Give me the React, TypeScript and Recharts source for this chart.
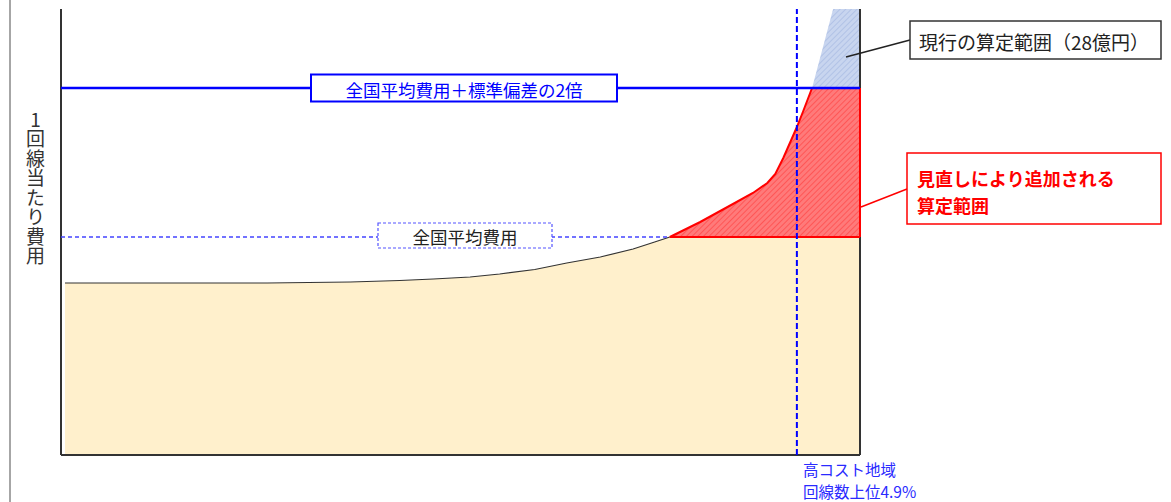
import React from 'react';
import { ComposedChart, Area, Line, XAxis, YAxis, ReferenceLine } from 'recharts';

// 収容局を1回線当たり費用の低い順に並べた位置（左端0〜右端100）
const POSITIONS = [
    0.5, 11.1, 25.8, 36.2, 42.4, 46.6, 51.2, 54.9, 59.3, 63.3, 67.5, 71.6, 74.3, 76.2,
    80.0, 84.1, 86.6, 88.4, 89.4, 90.4, 91.5, 92.1, 92.9, 94.0, 96.6, 100,
];
// 1回線当たり費用（相対値）
const COSTS = [
    172, 172, 172, 173, 174.5, 176, 178, 181, 185.5, 192, 198, 206, 213, 218,
    233, 251, 262, 272, 281, 297, 317, 328, 344, 367, 445, 545,
];

const AVERAGE = 218; // 全国平均費用
const AVERAGE_2SD = 367; // 全国平均費用＋標準偏差の2倍
const HIGH_COST_POS = 92.1; // 高コスト地域の境界
const Y_MAX = 446;

const FONT = '"Noto Sans CJK JP", "Noto Sans", sans-serif';

const rows = POSITIONS.map((x, i) => {
    const c = COSTS[i];
    return {
        x,
        base: Math.min(c, AVERAGE),
        added: Math.min(Math.max(c - AVERAGE, 0), AVERAGE_2SD - AVERAGE),
        current: Math.max(c - AVERAGE_2SD, 0),
        low: c <= AVERAGE ? c : null,
        high: c >= AVERAGE && c <= AVERAGE_2SD ? c : null,
    };
});

const crossAvg = POSITIONS[COSTS.indexOf(AVERAGE)];

const SdLabel = ({ viewBox }: any) => {
    const cx = viewBox.x + 403;
    const cy = viewBox.y;
    return (
        <g>
            <rect x={cx - 153} y={cy - 13.5} width={306} height={27} fill="#fff" stroke="#0000ff" strokeWidth={2} />
            <text x={cx} y={cy + 1} textAnchor="middle" dominantBaseline="central" fontSize={17.5} fill="#0000ff" fontFamily={FONT}>
                全国平均費用＋標準偏差の2倍
            </text>
        </g>
    );
};

const AvgLabel = ({ viewBox }: any) => {
    const cx = viewBox.x + 404;
    const cy = viewBox.y - 1.5;
    return (
        <g>
            <rect x={cx - 87} y={cy - 12.5} width={174} height={25} fill="#fff" stroke="#5555ff" strokeWidth={1.2} strokeDasharray="3 2" />
            <text x={cx} y={cy + 1} textAnchor="middle" dominantBaseline="central" fontSize={17.5} fill="#222" fontFamily={FONT}>
                全国平均費用
            </text>
        </g>
    );
};

const HighCostLabel = ({ viewBox }: any) => {
    const x = viewBox.x + 6;
    const y = viewBox.y + viewBox.height;
    return (
        <g fontSize={15.5} fill="#2a2aff" fontFamily={FONT}>
            <text x={x} y={y + 21}>高コスト地域</text>
            <text x={x} y={y + 43}>回線数上位4.9%</text>
        </g>
    );
};

const XTitle = ({ viewBox }: any) => (
    <text x={viewBox.x + viewBox.width / 2 + 4} y={viewBox.y + 13} textAnchor="middle" dominantBaseline="central" fontSize={16.5} fill="#333" fontFamily={FONT}>
        収容局別費用
    </text>
);

export default function App() {
    return (
        <div style={{ position: 'absolute', left: 0, top: 0, width: 1171, height: 502, background: '#fff', fontFamily: FONT, overflow: 'hidden' }}>
            <svg width={0} height={0} style={{ position: 'absolute' }}>
                <defs>
                    <pattern id="hatchRed" width={4} height={4} patternUnits="userSpaceOnUse" patternTransform="rotate(45)">
                        <rect width={4} height={4} fill="#ff7a7a" />
                        <line x1={0} y1={0} x2={0} y2={4} stroke="#ff4a4a" strokeWidth={1.5} />
                    </pattern>
                    <pattern id="hatchBlue" width={4} height={4} patternUnits="userSpaceOnUse" patternTransform="rotate(45)">
                        <rect width={4} height={4} fill="#c8d5ef" />
                        <line x1={0} y1={0} x2={0} y2={4} stroke="#a9bce3" strokeWidth={1.5} />
                    </pattern>
                </defs>
            </svg>

            <div style={{ position: 'absolute', left: 9, top: 0, width: 2, height: 502, background: '#a6a6a6' }} />

            <div
                style={{
                    position: 'absolute',
                    left: 25,
                    top: 110,
                    writingMode: 'vertical-rl',
                    textOrientation: 'upright',
                    fontSize: 19,
                    lineHeight: '20px',
                    color: '#333',
                    letterSpacing: 0.5,
                }}
            >
                1回線当たり費用
            </div>

            <div style={{ position: 'absolute', left: 0, top: 0 }}>
                <ComposedChart width={1171} height={502} data={rows} margin={{ top: 9, right: 311, bottom: 47, left: 61 }}>
                    <XAxis
                        dataKey="x"
                        type="number"
                        domain={[0, 100]}
                        tick={false}
                        tickLine={false}
                        height={0}
                        axisLine={false}
                        label={<XTitle />}
                    />
                    <YAxis domain={[0, Y_MAX]} allowDataOverflow tick={false} tickLine={false} width={0} axisLine={false} />
                    <Area dataKey="base" stackId="s" type="linear" fill="#fff0cc" fillOpacity={1} stroke="none" isAnimationActive={false} />
                    <Area dataKey="added" stackId="s" type="linear" fill="url(#hatchRed)" fillOpacity={1} stroke="none" isAnimationActive={false} />
                    <Area dataKey="current" stackId="s" type="linear" fill="url(#hatchBlue)" fillOpacity={1} stroke="none" isAnimationActive={false} />
                    <Line dataKey="low" type="linear" stroke="#333" strokeWidth={1.2} dot={false} isAnimationActive={false} />
                    <Line dataKey="high" type="linear" stroke="#ff0000" strokeWidth={2} dot={false} isAnimationActive={false} />

                    {/* 枠線（左・下・右） */}
                    <ReferenceLine x={0} stroke="#333" strokeWidth={2} />
                    <ReferenceLine y={0} stroke="#333" strokeWidth={2} />
                    <ReferenceLine x={100} stroke="#333" strokeWidth={2} />

                    <ReferenceLine
                        segment={[{ x: crossAvg, y: AVERAGE }, { x: 100, y: AVERAGE }]}
                        stroke="#ff0000"
                        strokeWidth={2}
                    />
                    <ReferenceLine
                        segment={[{ x: 100, y: AVERAGE }, { x: 100, y: AVERAGE_2SD }]}
                        stroke="#ff0000"
                        strokeWidth={2}
                    />
                    <ReferenceLine
                        segment={[{ x: 0, y: AVERAGE }, { x: crossAvg, y: AVERAGE }]}
                        stroke="#4444ff"
                        strokeWidth={1.3}
                        strokeDasharray="4 3"
                        label={AvgLabel}
                    />
                    <ReferenceLine y={AVERAGE_2SD} stroke="#0000ff" strokeWidth={2.5} label={SdLabel} />
                    <ReferenceLine x={HIGH_COST_POS} stroke="#0000ff" strokeWidth={2} strokeDasharray="6 3" label={HighCostLabel} />
                </ComposedChart>
            </div>

            <svg width={1171} height={502} style={{ position: 'absolute', left: 0, top: 0, pointerEvents: 'none' }} fontFamily={FONT}>
                <line x1={846} y1={57} x2={910} y2={40} stroke="#222" strokeWidth={1.5} />
                <rect x={910} y={21} width={251} height={38} fill="#fff" stroke="#333" strokeWidth={1.5} />
                <text x={919} y={41} dominantBaseline="central" fontSize={19} fill="#222">
                    現行の算定範囲（28億円）
                </text>

                <line x1={861} y1={207} x2={907} y2={189} stroke="#ff0000" strokeWidth={1.5} />
                <rect x={907} y={153} width={254} height={71} fill="#fff" stroke="#ff0000" strokeWidth={1.5} />
                <text x={917} y={178} dominantBaseline="central" fontSize={18} fontWeight={700} fill="#ff0000">
                    見直しにより追加される
                </text>
                <text x={917} y={205} dominantBaseline="central" fontSize={18} fontWeight={700} fill="#ff0000">
                    算定範囲
                </text>
            </svg>
        </div>
    );
}
